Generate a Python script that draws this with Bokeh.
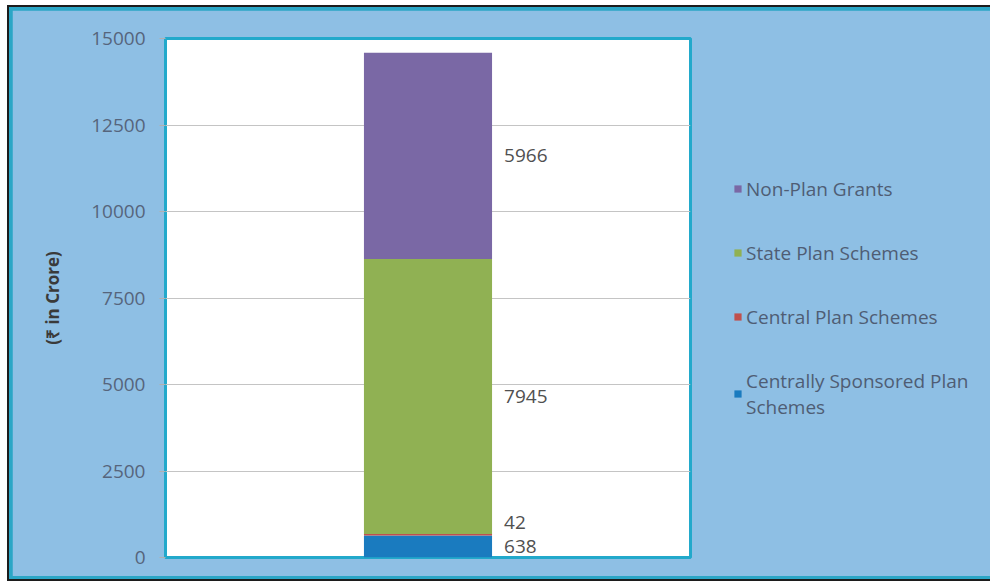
from bokeh.plotting import figure
from bokeh.models import (ColumnDataSource, Range1d, FixedTicker, Legend, LegendItem)
from bokeh.core.properties import value
from bokeh.embed import file_html
from bokeh.resources import INLINE

# ---- data ----
categories = ["Grants"]
series_names = ["Centrally Sponsored Plan Schemes", "Central Plan Schemes",
                "State Plan Schemes", "Non-Plan Grants"]
legend_labels = ["Centrally Sponsored Plan\nSchemes", "Central Plan Schemes",
                 "State Plan Schemes", "Non-Plan Grants"]
cs_plan = [638]
central_plan = [42]
state_plan = [7945]
non_plan = [5966]
y_ticks = [0, 2500, 5000, 7500, 10000, 12500, 15000]
y_label = "(\u20b9 in Crore)"

colors = ["#1a7bbf", "#c0504d", "#90b153", "#7a68a5"]
keys = ["cs", "cp", "sp", "np"]

xpos = list(range(len(categories)))
src = ColumnDataSource(dict(x=xpos, cs=cs_plan, cp=central_plan, sp=state_plan, np=non_plan))

BG = "#8ebfe4"
p = figure(frame_width=525, frame_height=519, output_backend="svg", toolbar_location=None,
           x_range=Range1d(-0.5, 0.5), y_range=Range1d(0, 15000),
           min_border_left=153, min_border_right=293, min_border_top=28, min_border_bottom=19)
p.styles = {"margin-left": "7px", "margin-top": "5px", "border": "2px solid #1c1c1c",
            "padding": "3px", "background-color": "#2ba6c6"}
p.border_fill_color = BG
p.background_fill_color = "white"
p.outline_line_color = "#22a9cb"
p.outline_line_width = 3

BAR_W = 0.244
renderers = p.vbar_stack(keys, x="x", width=BAR_W, source=src, color=colors, line_color=None)

# data labels at segment middles
vals = [cs_plan[0], central_plan[0], state_plan[0], non_plan[0]]
mids, acc = [], 0
for v in vals:
    mids.append(acc + v / 2)
    acc += v
nudge = [0, -12, 0, 0]
lab_src = ColumnDataSource(dict(x=[BAR_W / 2] * 4, y=mids, t=[str(v) for v in vals], dy=nudge))
p.text(x="x", y="y", text="t", source=lab_src, x_offset=12, y_offset="dy",
       text_baseline="middle", text_align="left", text_font=value("Open Sans"),
       text_font_size="19px", text_color="#505050")

# axes
p.xaxis.visible = False
p.xgrid.visible = False
p.ygrid.grid_line_color = "#c4c4c4"
yax = p.yaxis[0]
yax.ticker = FixedTicker(ticks=y_ticks)
yax.axis_line_color = None
yax.major_tick_line_color = "#b0b0b0"
yax.major_tick_out = 6
yax.major_tick_in = 0
yax.minor_tick_line_color = None
yax.major_label_standoff = 14
yax.major_label_text_font = "Open Sans"
yax.major_label_text_font_size = "19px"
yax.major_label_text_color = "#56657c"
yax.axis_label = y_label
yax.axis_label_text_font = "Open Sans"
yax.axis_label_text_font_size = "17px"
yax.axis_label_text_font_style = "bold"
yax.axis_label_text_color = "#3a3a3a"
yax.axis_label_standoff = 24

items = [LegendItem(label=legend_labels[i], renderers=[renderers[i]]) for i in reversed(range(4))]
legend = Legend(items=items, location="center_left", orientation="vertical")
legend.background_fill_alpha = 0
legend.border_line_color = None
legend.label_text_font = "Open Sans"
legend.label_text_font_size = "19px"
legend.label_text_color = "#4f5d74"
legend.glyph_width = 9
legend.glyph_height = 9
legend.label_standoff = 4
legend.spacing = 38
legend.margin = 43
legend.padding = 10
p.add_layout(legend, "right")

open("out.html", "w").write(file_html(p, INLINE))
